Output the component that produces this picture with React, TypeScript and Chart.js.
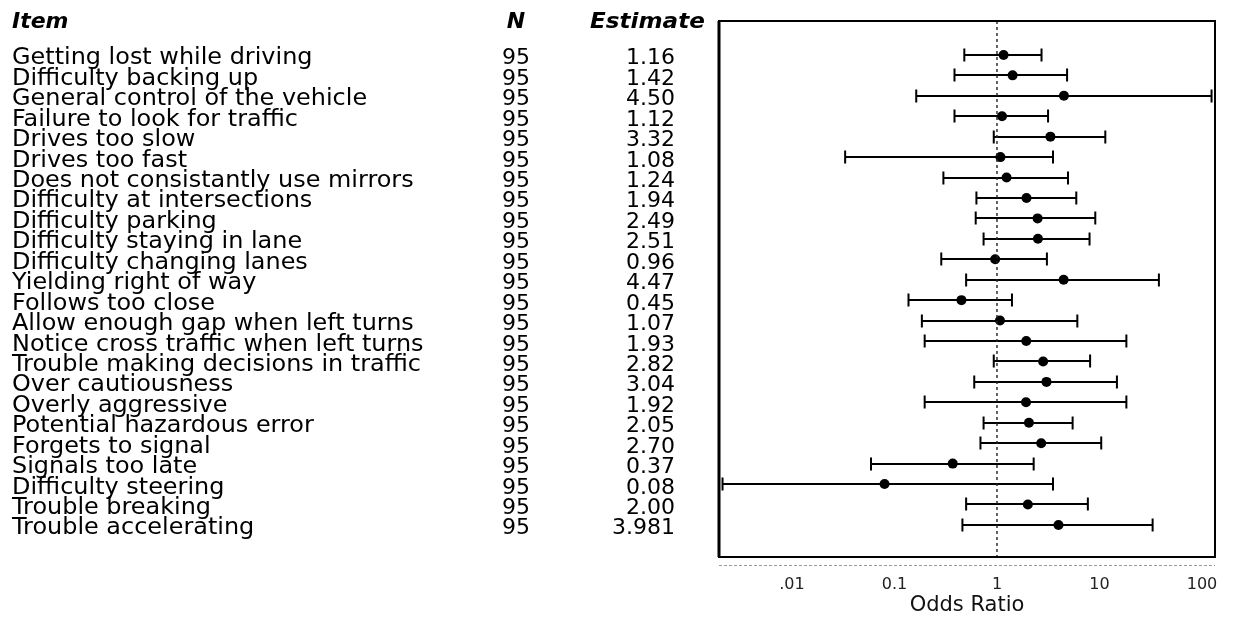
import React, { useEffect, useRef } from "react";
import { Chart, registerables } from "chart.js";

Chart.register(...registerables);

const items = [
  "Getting lost while driving",
  "Difficulty backing up",
  "General control of the vehicle",
  "Failure to look for traffic",
  "Drives too slow",
  "Drives too fast",
  "Does not consistantly use mirrors",
  "Difficulty at intersections",
  "Difficulty parking",
  "Difficulty staying in lane",
  "Difficulty changing lanes",
  "Yielding right of way",
  "Follows too close",
  "Allow enough gap when left turns",
  "Notice cross traffic when left turns",
  "Trouble making decisions in traffic",
  "Over cautiousness",
  "Overly aggressive",
  "Potential hazardous error",
  "Forgets to signal",
  "Signals too late",
  "Difficulty steering",
  "Trouble breaking",
  "Trouble accelerating",
];

const nValues = [95, 95, 95, 95, 95, 95, 95, 95, 95, 95, 95, 95, 95, 95, 95, 95, 95, 95, 95, 95, 95, 95, 95, 95];

const estimateLabels = [
  "1.16", "1.42", "4.50", "1.12", "3.32", "1.08", "1.24", "1.94", "2.49", "2.51", "0.96", "4.47",
  "0.45", "1.07", "1.93", "2.82", "3.04", "1.92", "2.05", "2.70", "0.37", "0.08", "2.00", "3.981",
];

const estimates = [
  1.16, 1.42, 4.5, 1.12, 3.32, 1.08, 1.24, 1.94, 2.49, 2.51, 0.96, 4.47,
  0.45, 1.07, 1.93, 2.82, 3.04, 1.92, 2.05, 2.7, 0.37, 0.08, 2.0, 3.981,
];

const lowerCI = [
  0.48, 0.385, 0.163, 0.385, 0.93, 0.033, 0.3, 0.63, 0.62, 0.74, 0.286, 0.5,
  0.137, 0.185, 0.197, 0.93, 0.6, 0.197, 0.74, 0.69, 0.059, 0.0021, 0.5, 0.46,
];

const upperCI = [
  2.72, 4.83, 124, 3.15, 11.4, 3.52, 4.93, 5.94, 9.1, 8.0, 3.07, 38,
  1.4, 6.08, 18.3, 8.1, 14.8, 18.3, 5.47, 10.4, 2.28, 3.52, 7.7, 33,
];

const tickValues = [0.01, 0.1, 1, 10, 100];
const tickLabels = [".01", "0.1", "1", "10", "100"];
const referenceValue = 1;

const FONT = "'DejaVu Sans', sans-serif";
const Y_MIN = -1.66;
const Y_MAX = 24.57;

export default function App() {
  const ref = useRef<HTMLCanvasElement | null>(null);

  useEffect(() => {
    document.body.style.margin = "0";
    const canvas = ref.current;
    if (!canvas) return;

    const tablePlugin = {
      id: "tableText",
      afterDraw(chart: any) {
        const ctx = chart.ctx as CanvasRenderingContext2D;
        const y = chart.scales.y;
        ctx.save();
        ctx.fillStyle = "#000";
        ctx.textBaseline = "alphabetic";
        ctx.font = `italic bold 22px ${FONT}`;
        ctx.textAlign = "left";
        ctx.fillText("Item", 12, 28);
        ctx.textAlign = "center";
        ctx.fillText("N", 516, 28);
        ctx.textAlign = "left";
        ctx.save();
        ctx.translate(590, 28);
        ctx.scale(1.05, 1);
        ctx.fillText("Estimate", 0, 0);
        ctx.restore();
        items.forEach((label, i) => {
          const py = y.getPixelForValue(i) + 9.5;
          ctx.font = `23px ${FONT}`;
          ctx.save();
          ctx.translate(12, py);
          ctx.scale(1.04, 1);
          ctx.textAlign = "left";
          ctx.fillText(label, 0, 0);
          ctx.restore();
          ctx.font = `22px ${FONT}`;
          ctx.textAlign = "center";
          ctx.fillText(String(nValues[i]), 516, py);
          ctx.textAlign = "right";
          ctx.fillText(estimateLabels[i], 675, py);
        });
        ctx.restore();
      },
    };

    const forestPlugin = {
      id: "forest",
      beforeDatasetsDraw(chart: any) {
        const ctx = chart.ctx as CanvasRenderingContext2D;
        const { x, y } = chart.scales;
        ctx.save();
        ctx.strokeStyle = "#000";
        ctx.lineWidth = 2;
        lowerCI.forEach((lo, i) => {
          const py = Math.round(y.getPixelForValue(i));
          const x1 = x.getPixelForValue(lo);
          const x2 = x.getPixelForValue(upperCI[i]);
          ctx.beginPath();
          ctx.moveTo(x1, py);
          ctx.lineTo(x2, py);
          ctx.moveTo(x1, py - 6.5);
          ctx.lineTo(x1, py + 6.5);
          ctx.moveTo(x2, py - 6.5);
          ctx.lineTo(x2, py + 6.5);
          ctx.stroke();
        });
        ctx.restore();
      },
      afterDraw(chart: any) {
        const ctx = chart.ctx as CanvasRenderingContext2D;
        const a = chart.chartArea;
        ctx.save();
        ctx.strokeStyle = "#000";
        ctx.lineWidth = 2;
        ctx.strokeRect(a.left, a.top, a.right - a.left, a.bottom - a.top);
        ctx.lineWidth = 3;
        ctx.beginPath();
        ctx.moveTo(a.left, a.top);
        ctx.lineTo(a.left, a.bottom);
        ctx.stroke();
        ctx.strokeStyle = "#9a9a9a";
        ctx.lineWidth = 1;
        ctx.setLineDash([3, 2]);
        ctx.beginPath();
        ctx.moveTo(a.left, a.bottom + 8.5);
        ctx.lineTo(a.right, a.bottom + 8.5);
        ctx.stroke();
        ctx.restore();
      },
    };

    const chart = new Chart(canvas, {
      type: "scatter",
      data: {
        datasets: [
          {
            data: [
              { x: referenceValue, y: Y_MIN },
              { x: referenceValue, y: Y_MAX },
            ],
            showLine: true,
            borderColor: "#222",
            borderWidth: 1.4,
            borderDash: [3, 3],
            pointRadius: 0,
          },
          {
            data: estimates.map((v, i) => ({ x: v, y: i })),
            pointRadius: 5,
            pointBackgroundColor: "#000",
            pointBorderColor: "#000",
            pointBorderWidth: 0,
            showLine: false,
          },
        ],
      },
      options: {
        responsive: false,
        animation: false,
        events: [],
        layout: { padding: { left: 719, right: 24, top: 21, bottom: 0 } },
        plugins: { legend: { display: false }, tooltip: { enabled: false } },
        scales: {
          x: {
            type: "logarithmic",
            min: 0.00194,
            max: 134,
            grid: { display: false, drawTicks: false },
            border: { display: false },
            afterBuildTicks: (scale: any) => {
              scale.ticks = tickValues.map((v) => ({ value: v }));
            },
            afterFit: (scale: any) => {
              scale.height = 63;
            },
            ticks: {
              autoSkip: false,
              maxRotation: 0,
              padding: 18,
              color: "#222",
              font: { family: FONT, size: 16 },
              callback: (value: any) => {
                const idx = tickValues.indexOf(Number(value));
                return idx >= 0 ? tickLabels[idx] : "";
              },
            },
            title: {
              display: true,
              text: "Odds Ratio",
              color: "#111",
              font: { family: FONT, size: 21 },
              padding: { top: 4, bottom: 2 },
            },
          },
          y: {
            type: "linear",
            min: Y_MIN,
            max: Y_MAX,
            reverse: true,
            display: false,
          },
        },
      },
      plugins: [forestPlugin, tablePlugin],
    } as any);

    return () => {
      chart.destroy();
    };
  }, []);

  return (
    <canvas ref={ref} width={1239} height={620} style={{ display: "block", width: 1239, height: 620 }} />
  );
}
